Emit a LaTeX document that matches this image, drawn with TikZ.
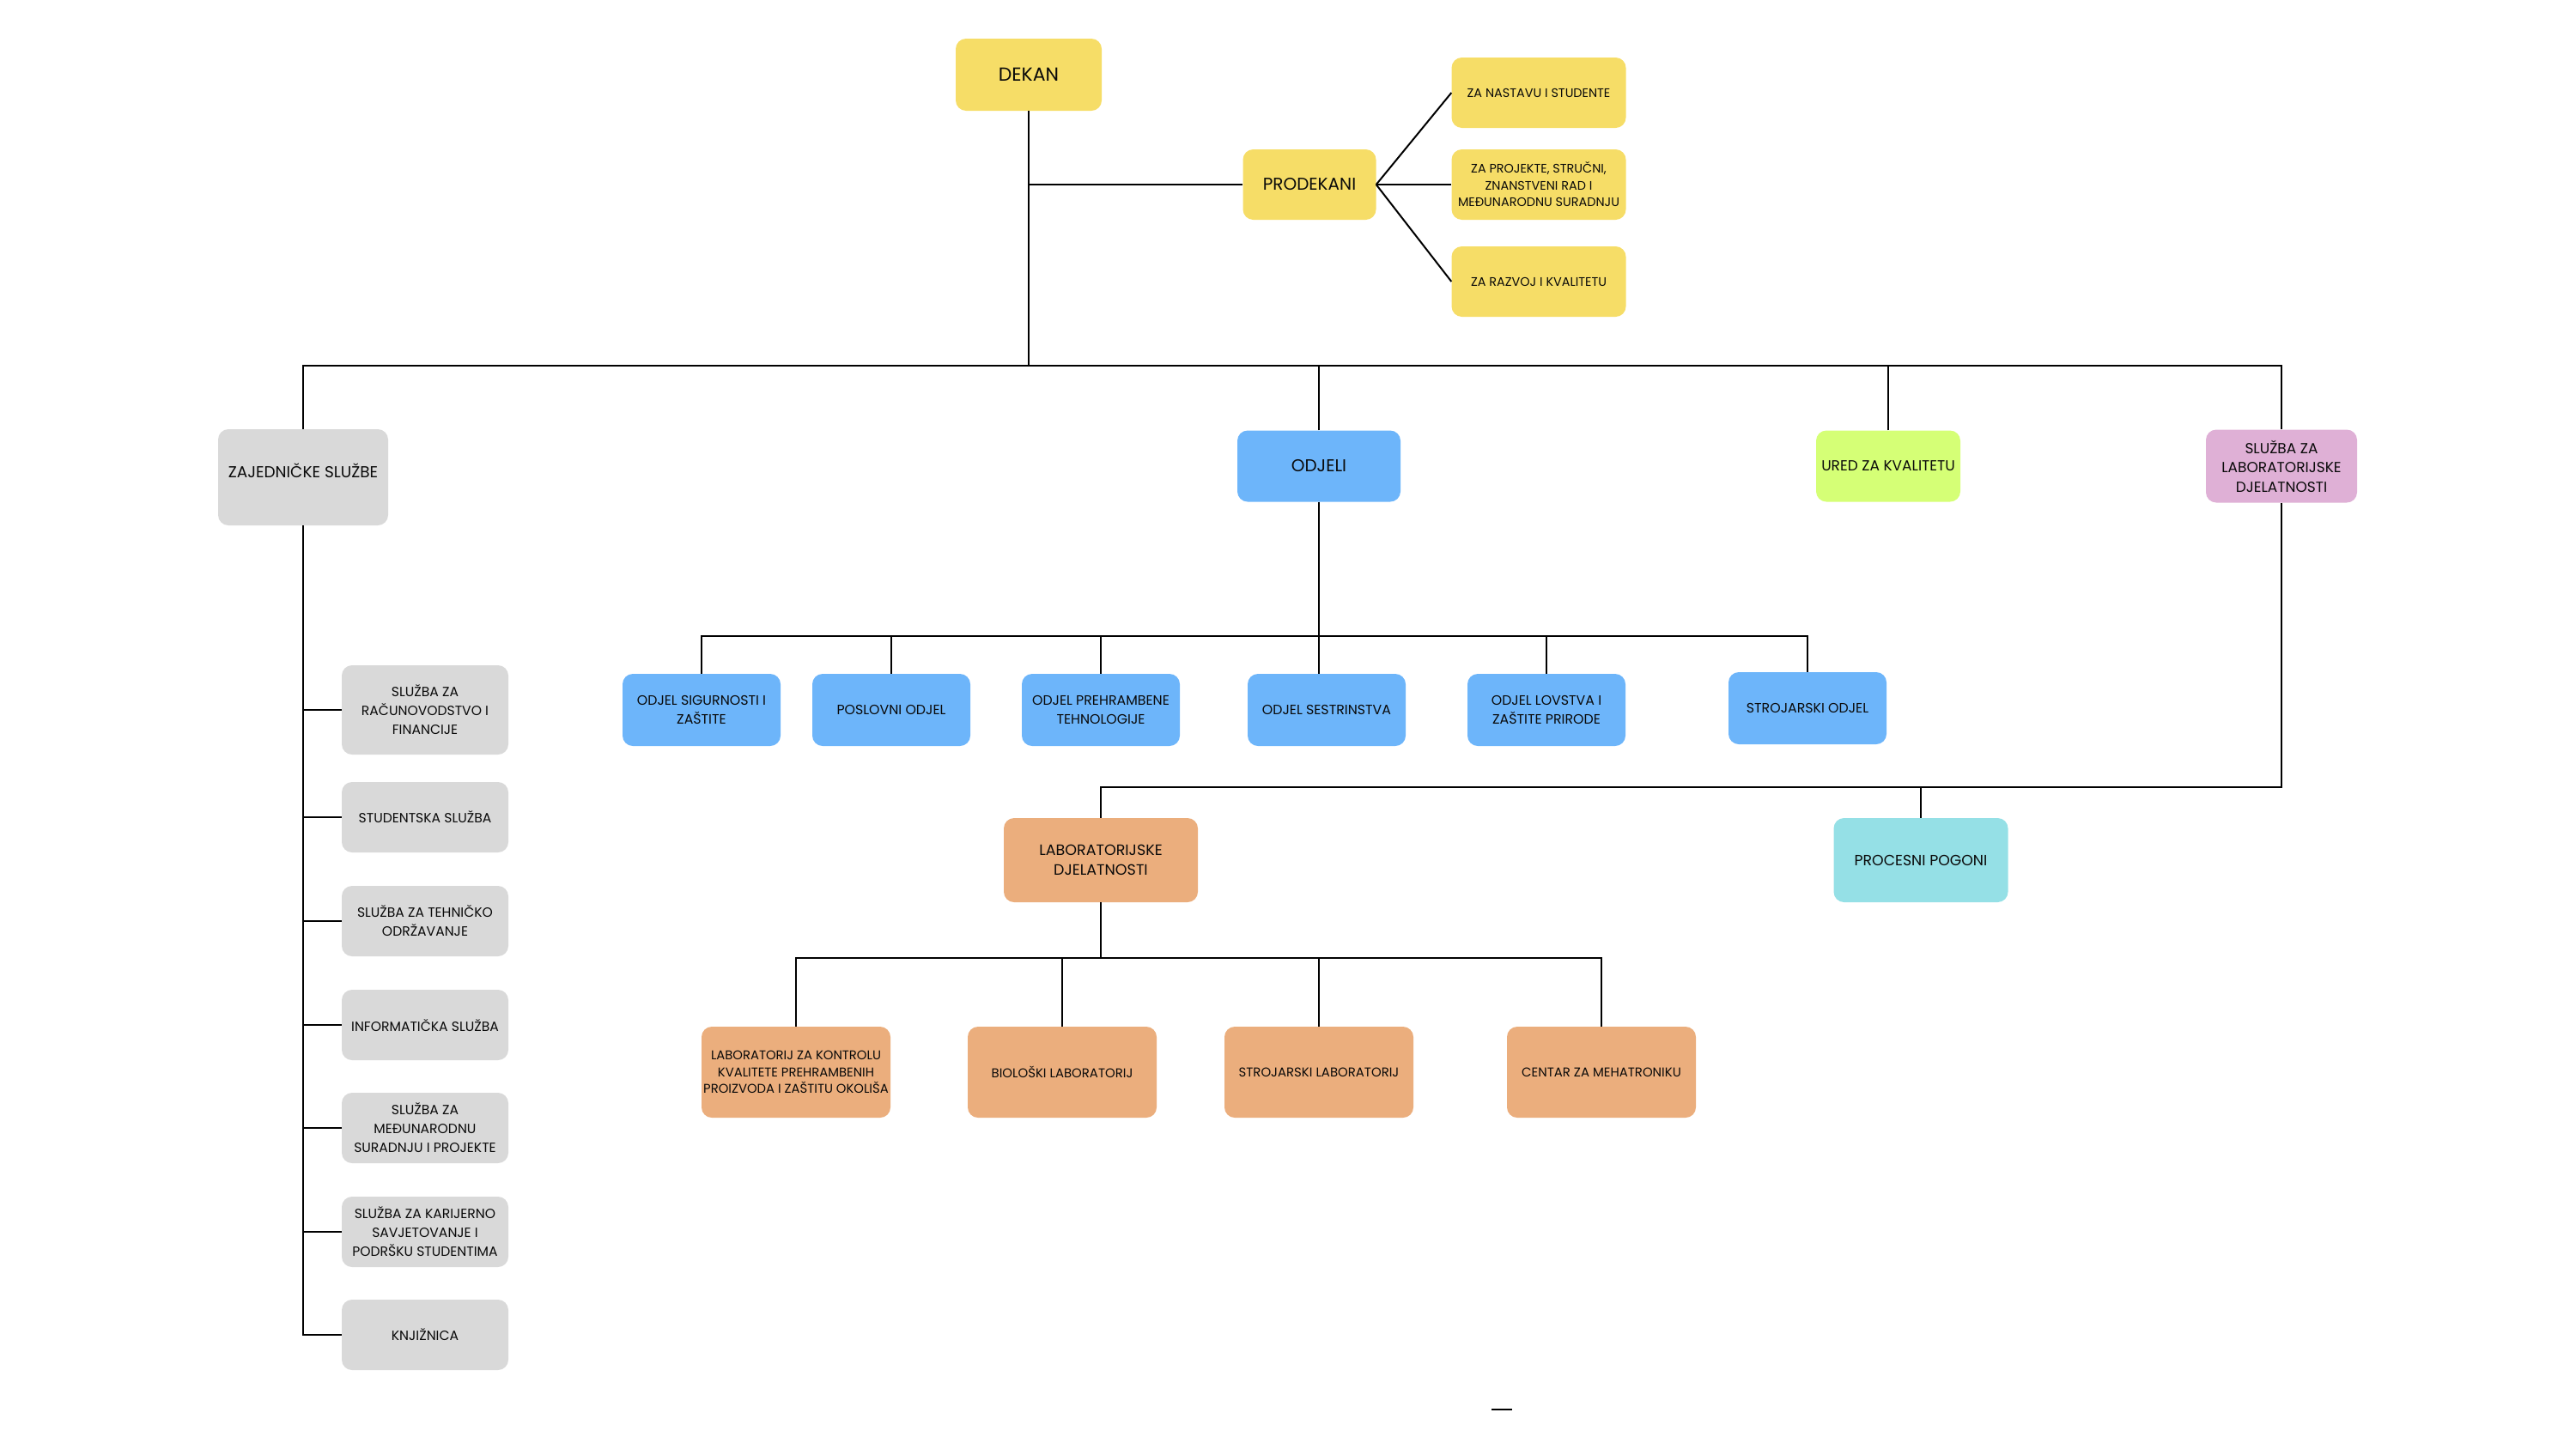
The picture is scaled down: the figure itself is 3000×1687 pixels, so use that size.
\documentclass[tikz,border=0pt]{standalone}
\usepackage{fontspec}
\setmainfont{Poppins}
\definecolor{cyel}{HTML}{F6DD67}
\definecolor{cgry}{HTML}{D9D9D9}
\definecolor{cblu}{HTML}{6DB5FA}
\definecolor{cgrn}{HTML}{D5FF76}
\definecolor{cpnk}{HTML}{DFB0D6}
\definecolor{corg}{HTML}{EBAE7D}
\definecolor{ccyn}{HTML}{95E0E6}
\definecolor{ctxt}{HTML}{0A0A0A}
\tikzset{
  orgbox/.style={rectangle, rounded corners=12pt, inner sep=0pt, align=center, text=ctxt},
  fs/.style 2 args={font=\fontsize{#1pt}{#2pt}\selectfont},
  sz/.style 2 args={minimum width=#1pt, minimum height=#2pt},
  conn/.style={draw=black, line width=2pt},
}
\begin{document}
\begin{tikzpicture}[x=1pt,y=-1pt]
\useasboundingbox (0,0) rectangle (3000,1687);

% top
\node[orgbox, fill=cyel, sz={170}{84}, fs={22}{26}] (dekan) at (1198,87) {DEKAN};
\node[orgbox, fill=cyel, sz={155}{82}, fs={20}{24}] (prodekani) at (1525,215) {PRODEKANI};
\node[orgbox, fill=cyel, sz={203}{82}, fs={14.4}{19.5}] (pd1) at (1792,108) {ZA NASTAVU I STUDENTE};
\node[orgbox, fill=cyel, sz={203}{82}, fs={14.4}{19.5}] (pd2) at (1792,215) {ZA PROJEKTE, STRUČNI,\\ZNANSTVENI RAD I\\MEĐUNARODNU SURADNJU};
\node[orgbox, fill=cyel, sz={203}{82}, fs={14.4}{19.5}] (pd3) at (1792,328) {ZA RAZVOJ I KVALITETU};

% second level
\node[orgbox, fill=cgry, sz={198}{112}, fs={18.5}{22}] (zaj) at (353,556) {\raisebox{16pt}{ZAJEDNIČKE SLUŽBE}};
\node[orgbox, fill=cblu, sz={190}{83}, fs={20}{24}] (odjeli) at (1536,543) {ODJELI};
\node[orgbox, fill=cgrn, sz={168}{83}, fs={17}{21}] (ured) at (2199,543) {URED ZA KVALITETU};
\node[orgbox, fill=cpnk, sz={176}{85}, fs={17}{22.5}] (sluzlab) at (2657,543) {SLUŽBA ZA\\LABORATORIJSKE\\DJELATNOSTI};

% common services
\node[orgbox, fill=cgry, sz={194}{104}, fs={15.6}{22}] (s1) at (495,827) {SLUŽBA ZA\\RAČUNOVODSTVO I\\FINANCIJE};
\node[orgbox, fill=cgry, sz={194}{82}, fs={15.6}{22}] (s2) at (495,952) {STUDENTSKA SLUŽBA};
\node[orgbox, fill=cgry, sz={194}{82}, fs={15.6}{22}] (s3) at (495,1073) {SLUŽBA ZA TEHNIČKO\\ODRŽAVANJE};
\node[orgbox, fill=cgry, sz={194}{82}, fs={15.6}{22}] (s4) at (495,1194) {INFORMATIČKA SLUŽBA};
\node[orgbox, fill=cgry, sz={194}{82}, fs={15.6}{22}] (s5) at (495,1314) {SLUŽBA ZA\\MEĐUNARODNU\\SURADNJU I PROJEKTE};
\node[orgbox, fill=cgry, sz={194}{82}, fs={15.6}{22}] (s6) at (495,1435) {SLUŽBA ZA KARIJERNO\\SAVJETOVANJE I\\PODRŠKU STUDENTIMA};
\node[orgbox, fill=cgry, sz={194}{82}, fs={15.6}{22}] (s7) at (495,1555) {KNJIŽNICA};

% departments
\node[orgbox, fill=cblu, sz={184}{84}, fs={15.8}{21.5}] (o1) at (817,827) {ODJEL SIGURNOSTI I\\ZAŠTITE};
\node[orgbox, fill=cblu, sz={184}{84}, fs={15.8}{21.5}] (o2) at (1038,827) {POSLOVNI ODJEL};
\node[orgbox, fill=cblu, sz={184}{84}, fs={15.8}{21.5}] (o3) at (1282,827) {ODJEL PREHRAMBENE\\TEHNOLOGIJE};
\node[orgbox, fill=cblu, sz={184}{84}, fs={15.8}{21.5}] (o4) at (1545,827) {ODJEL SESTRINSTVA};
\node[orgbox, fill=cblu, sz={184}{84}, fs={15.8}{21.5}] (o5) at (1801,827) {ODJEL LOVSTVA I\\ZAŠTITE PRIRODE};
\node[orgbox, fill=cblu, sz={184}{84}, fs={15.8}{21.5}] (o6) at (2105,825) {STROJARSKI ODJEL};

% labs
\node[orgbox, fill=corg, sz={226}{98}, fs={17.5}{23}] (lab) at (1282,1002) {LABORATORIJSKE\\DJELATNOSTI};
\node[orgbox, fill=ccyn, sz={203}{98}, fs={17.3}{23}] (proc) at (2237,1002) {PROCESNI POGONI};
\node[orgbox, fill=corg, sz={220}{106}, fs={14.8}{19.5}] (l1) at (927,1249) {LABORATORIJ ZA KONTROLU\\KVALITETE PREHRAMBENIH\\PROIZVODA I ZAŠTITU OKOLIŠA};
\node[orgbox, fill=corg, sz={220}{106}, fs={14.9}{19.5}] (l2) at (1237,1249) {BIOLOŠKI LABORATORIJ};
\node[orgbox, fill=corg, sz={220}{106}, fs={14.9}{19.5}] (l3) at (1536,1249) {STROJARSKI LABORATORIJ};
\node[orgbox, fill=corg, sz={220}{106}, fs={14.9}{19.5}] (l4) at (1865,1249) {CENTAR ZA MEHATRONIKU};

% bus coordinates
\coordinate (mbus) at (0,426);
\coordinate (obus) at (0,741);
\coordinate (lbus) at (0,917);
\coordinate (labbus) at (0,1116);

% connectors: top
\draw[conn] (dekan.south) -- (dekan.south |- mbus);
\draw[conn] (dekan.south |- prodekani.west) -- (prodekani.west);
\draw[conn] (prodekani.east) -- (pd1.west);
\draw[conn] (prodekani.east) -- (pd2.west);
\draw[conn] (prodekani.east) -- (pd3.west);

% main bus
\draw[conn] (zaj.north) -- (zaj.north |- mbus) -- (sluzlab.north |- mbus) -- (sluzlab.north);
\draw[conn] (odjeli.north) -- (odjeli.north |- mbus);
\draw[conn] (ured.north) -- (ured.north |- mbus);

% common services spine
\draw[conn] (zaj.south) -- (zaj.south |- s7.west) -- (s7.west);
\foreach \s in {s1,s2,s3,s4,s5,s6}{
  \draw[conn] (zaj.south |- \s.west) -- (\s.west);
}

% departments
\draw[conn] (odjeli.south) -- (odjeli.south |- o4.north);
\draw[conn] (o1.north) -- (o1.north |- obus) -- (o6.north |- obus) -- (o6.north);
\foreach \o in {o2,o3,o5}{
  \draw[conn] (\o.north) -- (\o.north |- obus);
}

% lab service
\draw[conn] (sluzlab.south) -- (sluzlab.south |- lbus) -- (lab.north |- lbus) -- (lab.north);
\draw[conn] (proc.north) -- (proc.north |- lbus);

% labs
\draw[conn] (lab.south) -- (lab.south |- labbus);
\draw[conn] (l1.north) -- (l1.north |- labbus) -- (l4.north |- labbus) -- (l4.north);
\foreach \l in {l2,l3}{
  \draw[conn] (\l.north) -- (\l.north |- labbus);
}

% stray mark
\draw[line width=2.5pt] (1737,1642) -- (1761,1642);
\end{tikzpicture}
\end{document}
